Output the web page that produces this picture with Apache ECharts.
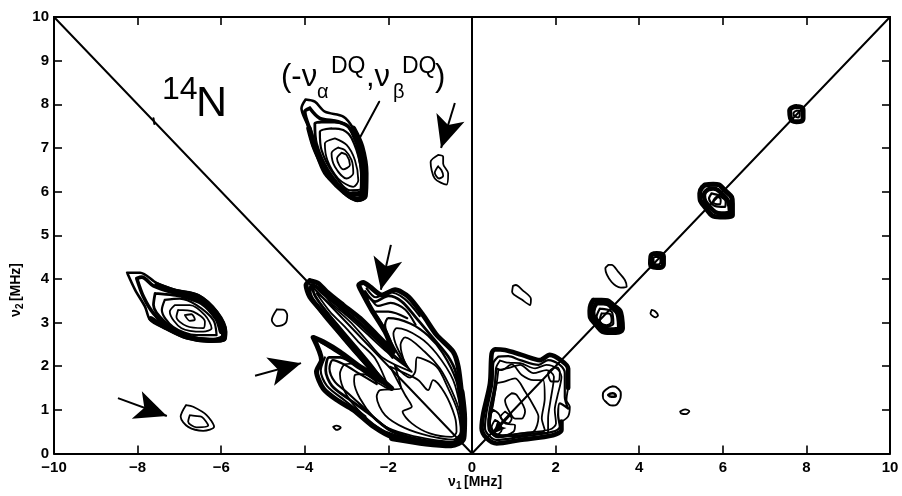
<!DOCTYPE html>
<html><head><meta charset="utf-8">
<style>html,body{margin:0;padding:0;background:#fff}#c{width:902px;height:496px}</style>
<script src="https://cdn.jsdelivr.net/npm/echarts@6/dist/echarts.min.js"></script>
</head><body><div id="c"></div>
<script>
const xTicks=[-10,-8,-6,-4,-2,0,2,4,6,8,10];
const yTicks=[0,1,2,3,4,5,6,7,8,9,10];
// main antidiagonal peak
const m1=[[-1.96,1.99],[-1.68,1.87],[-1.28,1.68],[-1.05,1.45],[-.93,1.68],[-.65,1.38],[-.41,.84],[-.37,.5],[-.49,.38],[-1.01,.46],[-1.44,.69],[-1.66,.96],[-1.44,1.07],[-1.6,1.34]];
const m2=[[-1.92,1.47],[-2.2,1.45],[-2.28,1.3],[-2.08,.88],[-1.6,.58],[-1.01,.4],[-.45,.32],[-.27,.5],[-.35,.99],[-.57,1.49],[-.85,1.99],[-1.31,2.2],[-1.36,1.87],[-1.48,1.74],[-1.85,2.02],[-1.7,1.5]];
const m3=[[-1.98,1.47],[-2.24,1.61],[-2.6,1.82],[-2.8,1.8],[-2.82,1.65],[-2.68,1.26],[-2.36,.84],[-2,.58],[-1.4,.4],[-.45,.27],[-.25,.5],[-.3,.96],[-.49,1.45],[-.77,1.95],[-1.13,2.33],[-1.6,2.66],[-1.71,2.49],[-1.6,2.07],[-1.44,1.87],[-2.12,2.18],[-2.56,2.64],[-2.92,3.02],[-3.28,3.33],[-3.64,3.63],[-3.72,3.67],[-3.4,3.25],[-3.04,2.9],[-2.72,2.56],[-2.32,2.18]];
const m4=[[-2.08,1.61],[-2.36,1.76],[-2.88,2.06],[-3.06,2.03],[-3.16,1.82],[-3,1.34],[-2.6,.88],[-2.16,.55],[-1.72,.4],[-1.01,.27],[-.41,.22],[-.21,.46],[-.26,.96],[-.45,1.68],[-.85,2.29],[-1.25,2.66],[-1.8,2.87],[-1.88,2.75],[-1.8,2.45],[-1.52,1.95],[-2.04,2.33],[-2.52,2.75],[-2.96,3.13],[-3.36,3.44],[-3.73,3.81],[-3.81,3.78],[-3.6,3.4],[-3.2,2.94],[-2.8,2.49],[-2.4,2.03]];
const m5=[[-2.28,1.59],[-2.68,1.82],[-3.08,2.05],[-3.33,2.14],[-3.41,1.95],[-3.28,1.64],[-3,1.41],[-2.68,1.13],[-2.28,.77],[-1.88,.5],[-1,.24],[-.45,.2],[-.17,.42],[-.23,.96],[-.38,1.68],[-.7,2.3],[-1.05,2.7],[-1.48,2.98],[-2,3.1],[-2.08,2.94],[-1.92,2.52],[-1.6,2.03],[-2.1,2.45],[-2.6,2.9],[-3.1,3.3],[-3.6,3.7],[-3.83,3.88],[-3.9,3.7],[-3.65,3.3],[-3.25,2.83],[-2.85,2.38],[-2.4,1.9]];
const m6=[[-2.56,3.71],[-2.32,3.48],[-2,3.61],[-1.68,3.48],[-1.33,3.1],[-.93,2.64],[-.57,2.22],[-.38,1.83],[-.27,1],[-.22,.5],[-.45,.25],[-1,.28],[-1.9,.5],[-2.45,.9],[-2.95,1.25],[-3.35,1.55],[-3.5,1.9],[-3.42,2.2],[-3.15,2.2],[-2.7,1.95],[-2.3,1.7],[-2,1.55],[-2.5,2.1],[-2.95,2.6],[-3.4,3.15],[-3.75,3.6],[-3.83,3.85],[-3.7,3.82],[-3.2,3.4],[-2.7,3],[-2.2,2.55],[-1.9,2.2],[-2.1,2.85],[-2.45,3.4]];
const m7=[[-3.88,3.96],[-3.68,3.9],[-3.48,3.71],[-3.08,3.4],[-2.68,3.1],[-2.28,2.72],[-1.88,2.33],[-2.08,2.79],[-2.4,3.29],[-2.64,3.71],[-2.71,3.86],[-2.6,3.92],[-2.44,3.82],[-2.16,3.63],[-1.84,3.75],[-1.52,3.59],[-1.17,3.17],[-.85,2.72],[-.45,2.33],[-.33,1.99],[-.25,1.38],[-.19,.77],[-.25,.39],[-.53,.19],[-1.09,.25],[-1.88,.37],[-2.36,.62],[-2.84,1],[-3.24,1.23],[-3.56,1.49],[-3.72,1.88],[-3.6,2.14],[-3.8,2.66],[-3.56,2.56],[-3.16,2.33],[-2.68,1.99],[-2.28,1.76],[-1.92,1.49],[-2.36,1.88],[-3,2.6],[-3.48,3.14],[-3.88,3.59],[-3.97,3.86]];
const mBand=[[-1.9,.36],[-1.1,.24],[-.5,.2],[-.22,.35],[-.2,.8],[-.26,1.4]];
const ridgeOuter=[[-2.1,2.45],[-2.6,2.9],[-3.1,3.3],[-3.6,3.7],[-3.8,3.85],[-3.88,3.7],[-3.65,3.3],[-3.25,2.83],[-2.85,2.38],[-2.4,1.9]];
const lobeTop=[[-3.62,2.55],[-3.4,2.42],[-3,2.18],[-2.6,1.92]];
const lobeLeft=[[-3.52,2.2],[-3.62,1.9],[-3.47,1.55],[-3.05,1.22],[-2.55,.85]];
const wave1=[[-2.52,3.78],[-2.3,3.58],[-2,3.7],[-1.62,3.55],[-1.25,3.15]];
const wave2=[[-2.42,3.55],[-2.25,3.38],[-1.95,3.45],[-1.6,3.3],[-1.35,2.95]];
const wave3=[[-2.3,3.25],[-2,3.25],[-1.55,3.1]];
// upper-left peak
const t1=[[-3.12,6.89],[-3.23,6.76],[-3.08,6.51],[-2.92,6.61],[-3,6.84]];
const t2=[[-3.2,7.01],[-3.36,6.88],[-3.28,6.57],[-3,6.3],[-2.84,6.42],[-2.88,6.72],[-3.04,6.95]];
const t3=[[-3.28,7.22],[-3.52,7.1],[-3.46,6.72],[-3.2,6.3],[-2.84,6.11],[-2.72,6.26],[-2.8,6.72],[-3,7.07]];
const t4=[[-3.36,7.45],[-3.64,7.37],[-3.6,6.95],[-3.32,6.42],[-2.92,6.03],[-2.64,6.07],[-2.68,6.65],[-2.88,7.22],[-3.08,7.41]];
const t5=[[-3.44,7.6],[-3.76,7.56],[-3.72,7.1],[-3.44,6.49],[-3,6],[-2.59,5.92],[-2.59,6.57],[-2.8,7.18],[-3,7.53]];
const t6=[[-3.88,7.91],[-3.64,7.68],[-3.2,7.6],[-2.94,7.47],[-2.72,7.03],[-2.56,6.42],[-2.56,5.92],[-2.84,5.84],[-3.2,6.11],[-3.52,6.42],[-3.72,6.88],[-3.84,7.33],[-4,7.83]];
const t7=[[-3.98,8.11],[-3.76,8.06],[-3.52,7.83],[-3.08,7.72],[-2.84,7.45],[-2.64,7.03],[-2.52,6.42],[-2.54,5.88],[-2.72,5.79],[-3.04,5.96],[-3.4,6.3],[-3.6,6.64],[-3.8,7.03],[-3.92,7.49],[-4.08,7.91]];
const tBand=[[-2.84,7.45],[-2.64,7.03],[-2.54,6.42],[-2.56,5.9],[-2.74,5.82],[-3.04,5.98],[-3.4,6.32],[-3.6,6.66],[-3.78,7.05],[-3.9,7.45]];
const tBand2=[[-2.72,7.0],[-2.62,6.4],[-2.64,5.98],[-2.85,5.95]];
// left peak
const n1=[[-6.87,3.17],[-6.75,3.04],[-6.63,3.07],[-6.71,3.19]];
const n2=[[-7.03,3.29],[-7.07,3.13],[-6.83,2.92],[-6.43,2.87],[-6.39,3.02],[-6.67,3.25]];
const n3=[[-7.11,3.4],[-7.23,3.25],[-6.95,2.87],[-6.43,2.79],[-6.23,2.87],[-6.39,3.17],[-6.75,3.4]];
const n4=[[-7.35,3.52],[-7.42,3.29],[-7.15,2.9],[-6.59,2.71],[-6.11,2.71],[-6.19,3.06],[-6.59,3.4],[-6.99,3.55]];
const n5=[[-7.58,3.67],[-7.62,3.4],[-7.35,3.02],[-6.83,2.71],[-6.19,2.62],[-5.97,2.71],[-6.15,3.17],[-6.59,3.52],[-7.15,3.63]];
const n6=[[-8.02,4.01],[-7.86,3.59],[-7.62,3.21],[-7.23,2.87],[-6.75,2.66],[-5.99,2.6],[-5.93,2.79],[-6.15,3.21],[-6.59,3.58],[-7.15,3.69],[-7.62,3.84],[-7.9,4.04]];
const n7=[[-8.25,4.14],[-7.94,4.14],[-7.54,3.9],[-7.11,3.75],[-6.55,3.63],[-6.11,3.25],[-5.89,2.79],[-5.91,2.6],[-6.27,2.56],[-6.83,2.64],[-7.35,2.87],[-7.7,3.06],[-7.82,3.36],[-8.06,3.75]];
const nBand=[[-7.54,3.87],[-7.11,3.72],[-6.55,3.6],[-6.11,3.22],[-5.91,2.79],[-5.93,2.63],[-6.27,2.59],[-6.83,2.67],[-7.35,2.9],[-7.68,3.09]];
const nBand2=[[-6.9,3.62],[-6.45,3.46],[-6.1,3.1],[-5.99,2.8]];
// isolated small contours, left half
const a1=[[-6.84,1.11],[-6.97,.84],[-6.79,.61],[-6.43,.52],[-6.17,.61],[-6.35,.88],[-6.67,1.07]];
const a2=[[-6.75,.88],[-6.79,.73],[-6.59,.6],[-6.31,.64],[-6.47,.84],[-6.63,.86]];
const b1=[[-4.67,3.3],[-4.79,3.06],[-4.67,2.92],[-4.47,2.98],[-4.42,3.17],[-4.5,3.29]];
const b2=[[-3.32,.61],[-3.24,.54],[-3.14,.59],[-3.24,.64]];
const d1=[[-.81,6.84],[-.99,6.68],[-.89,6.3],[-.61,6.16],[-.57,6.42],[-.69,6.64],[-.69,6.8]];
const d2=[[-.81,6.58],[-.89,6.43],[-.79,6.3],[-.69,6.36],[-.73,6.49]];
// right quadrant square peak
const qThick=[[2.14,.73],[2.14,.54],[1.94,.42],[1.15,.31],[.59,.23],[.35,.35],[.23,.58],[.27,.92],[.43,1.61],[.47,2.29],[.55,2.39],[.79,2.37],[1.19,2.26],[1.63,2.14],[1.86,2.26],[2.14,2.13],[2.3,1.95],[2.3,1.5]];
const qOut=[[2.3,1.5],[2.26,1.22],[2.34,1.07],[2.3,.85],[2.14,.73]];
const q6=[[.63,2.22],[.51,2.07],[.49,1.61],[.35,.96],[.31,.58],[.59,.31],[1.15,.38],[1.94,.5],[2.1,.61],[2.06,.88],[2.1,1.15],[2.3,1.03],[2.22,1.3],[2.22,1.84],[2.1,2.03],[1.82,2.14],[1.59,2.03],[1.15,2.14],[.87,2.23]];
const q5=[[.67,2.13],[.57,1.95],[.55,1.61],[.41,.96],[.39,.58],[.63,.37],[1.15,.46],[1.86,.55],[2.01,.69],[1.98,1],[2.04,1.3],[2.14,1.76],[2.02,1.95],[1.78,2.03],[1.51,1.95],[1.15,2.07],[.87,2.08]];
const q4=[[.63,1.91],[.59,1.61],[.47,1],[.43,.65],[.67,.42],[1.23,.46],[1.82,.5],[1.82,.8],[1.88,1.22],[1.96,1.76],[1.78,1.91],[1.47,1.84],[1.15,2.03],[.91,1.97]];
const q3=[[.59,1.95],[.71,1.91],[.95,2.04],[1.19,1.8],[1.47,1.68],[1.7,1.68],[1.74,1.26],[1.67,.8],[1.74,.54],[1.15,.42],[.59,.38],[.39,.65],[.49,1.22]];
const q2=[[.59,1.61],[.75,1.64],[1.03,1.72],[1.27,1.42],[1.51,1.03],[1.59,.84],[1.47,.5],[.99,.4],[.55,.46],[.43,.69],[.51,1.15]];
const q1=[[.95,1.38],[.79,1.22],[.87,1],[1.03,.8],[1.19,.8],[1.27,.96],[1.07,1.34]];
const q7=[[1.96,1.97],[1.82,1.84],[1.9,1.65],[2.06,1.65],[2.1,1.87],[2.04,1.97]];
const q8=[[.51,1],[.39,.77],[.43,.54],[.67,.38],[.99,.5],[1.03,.65],[.79,.69],[.63,.92]];
const q9=[[.79,.96],[.68,.84],[.87,.69],[.95,.8]];
const q10=[[.55,.77],[.47,.61],[.59,.42],[.71,.54],[.67,.69]];
// diagonal peaks
const p3a=[[2.9,3.51],[2.82,3.27],[2.94,2.98],[3.3,2.77],[3.6,2.87],[3.58,3.13],[3.38,3.4],[3.1,3.51]];
const p3b=[[2.98,3.44],[2.9,3.25],[3.02,3.02],[3.3,2.84],[3.52,2.89],[3.5,3.13],[3.34,3.35],[3.14,3.44]];
const p3c=[[3.06,3.32],[2.98,3.13],[3.18,2.9],[3.38,2.98],[3.34,3.25]];
const p3d=[[3.1,3.21],[3.06,3.05],[3.22,2.94],[3.34,3.05],[3.26,3.21]];
const p4a=[[4.42,4.58],[4.28,4.52],[4.27,4.34],[4.42,4.26],[4.58,4.34],[4.58,4.52]];
const p4b=[[4.42,4.51],[4.34,4.47],[4.35,4.37],[4.43,4.33],[4.51,4.39],[4.5,4.48]];
const p5a=[[5.57,6.15],[5.45,5.96],[5.57,5.65],[5.93,5.42],[6.23,5.46],[6.23,5.73],[6.05,6.03],[5.77,6.17]];
const p5b=[[5.65,6.05],[5.55,5.92],[5.69,5.65],[5.97,5.5],[6.17,5.54],[6.13,5.77],[5.97,5.96],[5.77,6.07]];
const p5c=[[5.73,5.96],[5.67,5.84],[5.81,5.67],[6.05,5.65],[6.07,5.77],[5.93,5.9]];
const p5d=[[5.85,5.88],[5.77,5.77],[5.93,5.71],[5.95,5.81]];
const p7a=[[7.76,7.95],[7.6,7.85],[7.62,7.68],[7.76,7.6],[7.92,7.68],[7.92,7.87]];
const p7b=[[7.76,7.85],[7.69,7.79],[7.73,7.72],[7.8,7.7],[7.84,7.78],[7.83,7.85]];
// isolated small contours, right half
const e1=[[3.26,4.32],[3.19,4.24],[3.34,3.93],[3.56,3.8],[3.7,3.82],[3.66,3.97],[3.5,4.16],[3.34,4.32]];
const e2=[[4.3,3.29],[4.27,3.21],[4.4,3.12],[4.45,3.17],[4.38,3.26]];
const e3=[[.98,3.84],[.96,3.7],[1.2,3.52],[1.39,3.4],[1.41,3.54],[1.2,3.75],[1.05,3.86]];
const e4=[[3.37,1.54],[3.2,1.46],[3.13,1.32],[3.22,1.17],[3.37,1.1],[3.52,1.2],[3.56,1.34],[3.5,1.48]];
const e5=[[3.26,1.34],[3.36,1.38],[3.44,1.32],[3.34,1.3]];
const e6=[[4.98,.96],[5.1,1.01],[5.2,.97],[5.12,.9],[5,.92]];
// reference lines
const diagLeft=[[-10,10],[0,0]];
const diagRight=[[0,0],[10,10]];
const zeroLine=[[0,0],[0,10]];
const leader=[[-2.22,8.06],[-2.68,7.24]];
const speck=[[-7.62,7.68],[-7.6,7.55]];
const arrows=[[[-8.47,1.27],[-7.3,.86]],[[-5.19,1.78],[-4.09,2.07]],[[-1.94,4.78],[-2.18,3.75]],[[-.41,8.03],[-.74,7]]];
const smallArrow=[[[.95,.92],[.51,.46]]];

const closed=a=>a.concat([a[0]]);
const line=(data,w,smooth)=>({type:'line',data,showSymbol:false,symbol:'none',silent:true,smooth:smooth===undefined?0.3:smooth,
  lineStyle:{color:'#000',width:w,join:'round',cap:'round'},xAxisIndex:0,yAxisIndex:0,z:3});
const series=[];
const closedSets=[
 [[m1,m2,m3,m4,t1,t2,t3,n1,n2,n3,a1,a2,b1,b2,d1,d2,q5,q4,q3,q2,q1,q7,q8,q9,q10,e1,e2,e3,e6],1.8,.3],
 [[e4,p4b,p7b,p3d,p5d],2,.6],
 [[m5,t4,n4,q6,p5c,p3c],2.2,.3],
 [[e5],2.6,.6],
 [[m6,t5,n5],2.8,.3],
 [[t6,n6],3.6,.3],
 [[t7,n7],2.6,.3],
 [[p3b,p5b],4.4,.5],
 [[p4a,p7a,p3a,p5a],5,.6],
 [[m7],5,.25]];
closedSets.forEach(s=>s[0].forEach(c=>series.push(line(closed(c),s[1],s[2]))));
const openSets=[
 [[lobeTop,lobeLeft,wave3],2.2],[[wave1,wave2],2.2],[[ridgeOuter],3.6],
 [[mBand],7],[[tBand],5.5],[[tBand2],5],[[nBand],5],[[nBand2],6],[[qThick],4.6],[[qOut],1.8]];
openSets.forEach(s=>s[0].forEach(c=>series.push(line(c,s[1]))));
[diagLeft,diagRight,leader,zeroLine,speck].forEach(d=>series.push(line(d,2,false)));
const arrowSeries=(list,size)=>({type:'line',data:[],silent:true,markLine:{silent:true,animation:false,symbol:['none','arrow'],symbolSize:size,
  lineStyle:{color:'#000',width:2,type:'solid'},label:{show:false},
  data:list.map(s=>[{coord:s[0]},{coord:s[1]}])}});
series.push(arrowSeries(arrows,[22,32]));
series.push(arrowSeries(smallArrow,[9,13]));

const txt=(x,y,t,size)=>({type:'text',left:x,top:y,silent:true,style:{text:t,font:size+'px "Liberation Sans"',fill:'#000'}});
const tick={show:true,inside:true,length:8,lineStyle:{color:'#000',width:1.6}};
const axLine={show:true,onZero:false,lineStyle:{color:'#000',width:2}};
const lab={color:'#000',fontFamily:'Liberation Sans',fontWeight:'bold',fontSize:15};
const chart=echarts.init(document.getElementById('c'),null,{renderer:'canvas'});
chart.setOption({
  animation:false,backgroundColor:'#fff',
  grid:{left:54,right:12,top:17,bottom:42.5,containLabel:false},
  xAxis:[
   {type:'value',min:-10,max:10,interval:2,position:'bottom',axisLine:axLine,axisTick:tick,splitLine:{show:false},
    axisLabel:Object.assign({},lab,{margin:7,formatter:v=>String(v).replace('-','\u2212'),showMinLabel:true,showMaxLabel:true})},
   {type:'value',min:-10,max:10,interval:2,position:'top',axisLine:axLine,axisTick:tick,axisLabel:{show:false},splitLine:{show:false}}],
  yAxis:[
   {type:'value',min:0,max:10,interval:1,position:'left',axisLine:axLine,axisTick:tick,splitLine:{show:false},axisLabel:Object.assign({},lab,{margin:5})},
   {type:'value',min:0,max:10,interval:1,position:'right',axisLine:axLine,axisTick:tick,axisLabel:{show:false},splitLine:{show:false}}],
  series,
  graphic:[
   txt(162,74,'14',32),txt(196,83,'N',43),
   txt(281,62,'(-\u03BD',31),txt(317,82,'\u03B1',20),txt(331,55,'DQ',23),
   txt(366,62,',\u03BD',31),txt(393,82,'\u03B2',20),txt(402,55,'DQ',23),txt(435,62,')',31),
   {type:'text',left:448,top:475,silent:true,style:{text:'\u03BD',font:'bold 14px "Liberation Sans"',fill:'#000'}},
   {type:'text',left:456,top:481,silent:true,style:{text:'1',font:'bold 10px "Liberation Sans"',fill:'#000'}},
   {type:'text',left:464,top:475,silent:true,style:{text:'[MHz]',font:'bold 14px "Liberation Sans"',fill:'#000'}},
   {type:'group',left:9,top:263,rotation:Math.PI/2,children:[
     {type:'text',x:0,y:0,silent:true,style:{text:'\u03BD',font:'bold 14px "Liberation Sans"',fill:'#000'}},
     {type:'text',x:8,y:6,silent:true,style:{text:'2',font:'bold 10px "Liberation Sans"',fill:'#000'}},
     {type:'text',x:16,y:0,silent:true,style:{text:'[MHz]',font:'bold 14px "Liberation Sans"',fill:'#000'}}
   ]}
  ]
});
</script></body></html>
